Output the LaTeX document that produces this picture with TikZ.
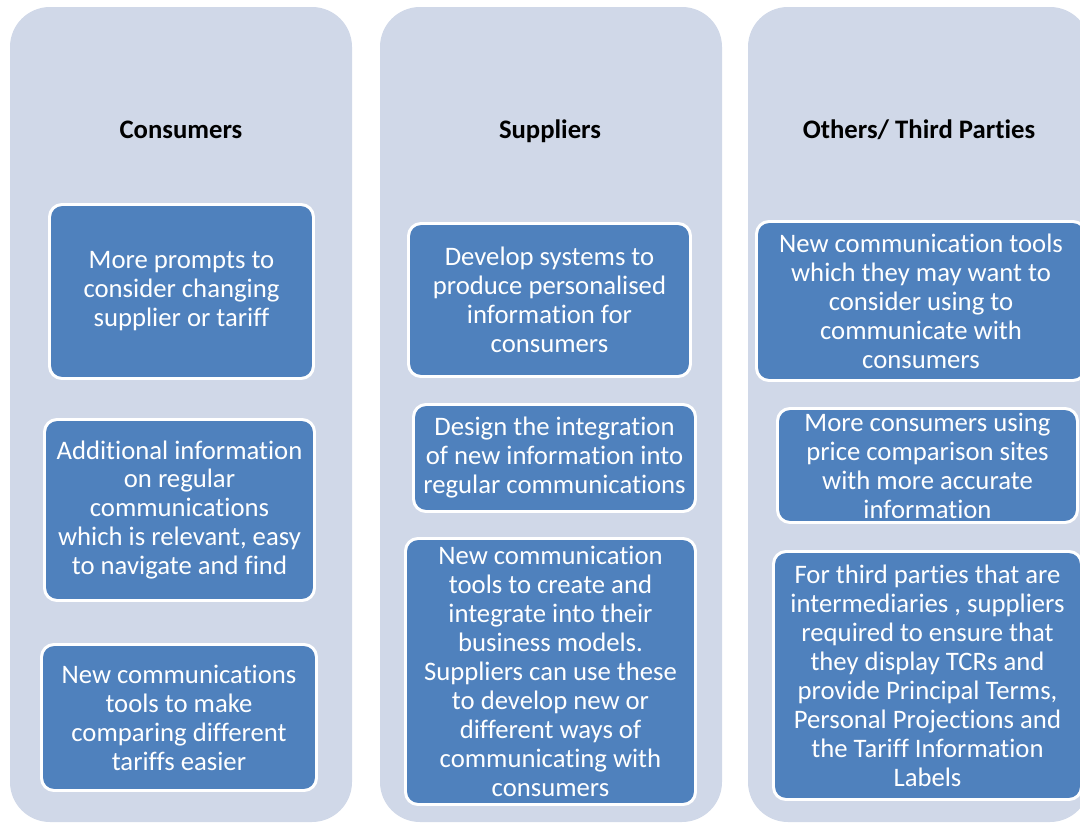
\documentclass[tikz,border=0pt]{standalone}
\usepackage{fontspec}
\setmainfont[Ligatures=CommonOff]{Carlito}
\definecolor{colbg}{HTML}{D0D8E8}
\definecolor{boxblue}{HTML}{4F81BD}

\begin{document}
\begin{tikzpicture}[x=0.02cm,y=-0.02cm, font=\fontsize{15.2}{16.5}\selectfont, line join=round,
    column/.style={fill=colbg, rounded corners=0.8cm},
    head/.style={font=\fontsize{15.2}{16.5}\selectfont\bfseries, anchor=base},
    item/.style 2 args={draw=white, line width=1.7pt, fill=boxblue, text=white,
      rounded corners=0.25cm, align=center, inner sep=0pt,
      minimum width=#1*0.02cm, minimum height=#2*0.02cm}]
        \useasboundingbox (0,0) rectangle (1080,825);
        \clip (0,0) rectangle (1080,825);
        % three columns
        \fill[column] (10,7) rectangle (352,822);
        \fill[column] (380,7) rectangle (722,822);
        \fill[column] (748,7) rectangle (1090,822);
        \node[head] (consumers) at (181,138) {Consumers};
        \node[head] (suppliers) at (550,138) {Suppliers};
        \node[head] (others) at (919,138) {Others/ Third Parties};
        % consumers
        \node[item={264}{174}] (prompts) at (181.5,291.5) {More prompts to\\consider changing\\supplier or tariff};
        \node[item={270}{181}] (addinfo) at (179.5,510) {Additional information\\on regular\\communications\\which is relevant, easy\\to navigate and find};
        \node[item={275}{146}] (newtools) at (179,717.5) {New communications\\tools to make\\comparing different\\tariffs easier};
        % suppliers
        \node[item={282}{153}] (systems) at (549.5,300) {Develop systems to\\produce personalised\\information for\\consumers};
        \node[item={282}{107}] (design) at (554.5,458) {Design the integration\\of new information into\\regular communications};
        \node[item={290}{266}] (suptools) at (550.5,671.5) {New communication\\tools to create and\\integrate into their\\business models.\\Suppliers can use these\\to develop new or\\different ways of\\communicating with\\consumers};
        % others / third parties
        \node[item={329}{159}] (othtools) at (921,301) {New communication tools\\which they may want to\\consider using to\\communicate with\\consumers};
        \node[item={300}{114}] (pcw) at (927.5,465.5) {More consumers using\\price comparison sites\\with more accurate\\information};
        \node[item={308}{248}] (intermed) at (927.5,675.5) {For third parties that are\\intermediaries , suppliers\\required to ensure that\\they display TCRs and\\provide Principal Terms,\\Personal Projections and\\the Tariff Information\\Labels};
\end{tikzpicture}
\end{document}
